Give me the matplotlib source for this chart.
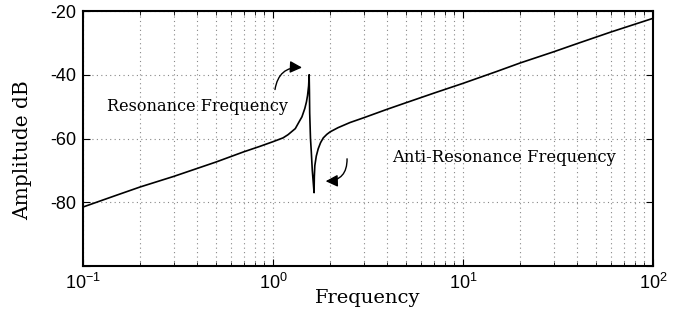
import numpy as np
import matplotlib
matplotlib.use("Agg")
import matplotlib.pyplot as plt
from matplotlib.ticker import LogLocator, NullFormatter

# values (frequency, amplitude in dB)
freq = [0.1, 0.15, 0.2, 0.3, 0.5, 0.7, 0.85, 1.0, 1.13, 1.2, 1.31, 1.38,
        1.42, 1.47, 1.50, 1.52, 1.54, 1.55, 1.555, 1.56, 1.575, 1.59, 1.61,
        1.63, 1.645, 1.65, 1.66, 1.69, 1.73, 1.78, 1.84, 1.92, 2.0, 2.2,
        2.54, 3.0, 4.0, 5.0, 7.0, 10.0, 15.0, 20.0, 30.0, 40.0, 60.0, 100.0]
amp = [-81.5, -77.8, -75.2, -71.9, -67.4, -64.2, -62.5, -61.0, -59.8, -58.8, -56.9, -54.5,
       -53.2, -50.6, -48.5, -46.5, -43.5, -40.0, -45.0, -52.0, -60.0, -64.0, -70.0,
       -74.0, -77.0, -72.0, -68.5, -65.5, -63.2, -61.3, -59.8, -58.7, -57.9, -56.6,
       -55.0, -53.5, -50.8, -48.8, -45.8, -42.7, -39.0, -36.3, -32.8, -30.2, -26.6, -22.3]

yticks = [-100, -80, -60, -40, -20]
ytick_labels = ['', '-80', '-60', '-40', '-20']

plt.rcParams['axes.unicode_minus'] = False
serif = 'DejaVu Serif'
sans = 'Liberation Sans'

fig = plt.figure(figsize=(6.84, 3.11), dpi=100)
ax = fig.add_axes([83/684, 1-266/311, (653-83)/684, (266-11)/311])

ax.plot(freq, amp, color='black', lw=1.2)
ax.set_xscale('log')
ax.set_xlim(0.1, 100)
ax.set_ylim(-100, -20)

ax.set_yticks(yticks)
ax.set_yticklabels(ytick_labels, fontfamily=sans, fontsize=13)
ax.xaxis.set_minor_locator(LogLocator(base=10, subs=np.arange(2, 10), numticks=20))
ax.xaxis.set_minor_formatter(NullFormatter())
for lab in ax.get_xticklabels():
    lab.set_fontfamily(sans)
    lab.set_fontsize(13)

ax.tick_params(which='both', direction='in', top=True, right=True, color='black')
ax.tick_params(which='major', length=5, width=0.8, pad=5)
ax.tick_params(which='minor', length=3, width=0.6)
ax.grid(which='major', color='#888888', linestyle=(0, (1, 3)), lw=0.8)
ax.grid(which='minor', axis='x', color='#888888', linestyle=(0, (1, 3)), lw=0.8)
for sp in ax.spines.values():
    sp.set_linewidth(1.5)

ax.set_xlabel('Frequency', fontfamily=serif, fontsize=14, labelpad=-3)
ax.set_ylabel('Amplitude dB', fontfamily=serif, fontsize=14.5)
ax.yaxis.set_label_coords(-0.09, 0.455)

ax.text(0.1338, -50, 'Resonance Frequency', fontfamily=serif, fontsize=11.6,
        va='center', ha='left')
ax.text(4.23, -65.9, 'Anti-Resonance Frequency', fontfamily=serif, fontsize=11.8,
        va='center', ha='left')

ax.annotate('', xy=(1.47, -37.8), xytext=(1.02, -45.5),
            arrowprops=dict(arrowstyle='-|>', color='black', lw=1.0,
                            mutation_scale=18,
                            connectionstyle='arc3,rad=-0.5'))
ax.annotate('', xy=(1.83, -73.4), xytext=(2.45, -65.5),
            arrowprops=dict(arrowstyle='-|>', color='black', lw=1.0,
                            mutation_scale=18,
                            connectionstyle='arc3,rad=-0.55'))

fig.savefig('out.png', dpi=100)
